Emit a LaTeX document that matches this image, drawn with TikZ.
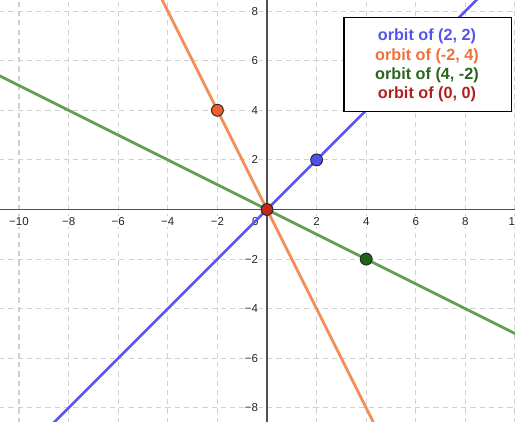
\documentclass[tikz,border=0pt]{standalone}
\usepackage{fontspec}
\setmainfont{Liberation Sans}
\definecolor{gridc}{RGB}{208,208,208}
\definecolor{axisc}{RGB}{80,80,80}
\definecolor{blueL}{RGB}{88,88,242}
\definecolor{orangeL}{RGB}{240,142,88}
\definecolor{greenL}{RGB}{98,158,86}
\definecolor{blueD}{RGB}{80,80,240}
\definecolor{orangeD}{RGB}{238,96,48}
\definecolor{greenD}{RGB}{32,98,22}
\definecolor{redD}{RGB}{192,40,28}
\definecolor{blueT}{RGB}{85,85,238}
\definecolor{orangeT}{RGB}{240,112,60}
\definecolor{greenT}{RGB}{42,100,30}
\definecolor{redT}{RGB}{176,32,30}
\begin{document}
\begin{tikzpicture}[x=0.5cm,y=0.5cm,
  gridline/.style={draw=gridc, line width=0.6pt, dash pattern=on 3pt off 2.3pt},
  axisline/.style={draw=axisc, line width=0.75pt},
  orbitline/.style={line width=1.55pt},
  ticklab/.style={font=\fontsize{6.6}{7}\selectfont, fill=white, inner sep=0.7pt, text=black!85},
  dot/.style={circle, draw=black!85, line width=0.55pt, minimum size=6.8pt, inner sep=0pt},
  legbox/.style={draw=black, line width=0.8pt, fill=white, minimum width=3.381cm, minimum height=1.905cm, inner sep=0pt},
  legtext/.style={font=\fontsize{9.3}{11}\selectfont\bfseries, inner sep=0pt, anchor=base}]
\useasboundingbox (-10.766,-8.528) rectangle (10.0,8.448);
\clip (-10.766,-8.528) rectangle (10.0,8.448);
% grid
\foreach \x in {-10,-8,...,10} {
  \draw[gridline] (\x,-8.6) -- (\x,8.5);
}
\foreach \y in {-8,-6,...,8} {
  \draw[gridline] (-10.8,\y) -- (10.1,\y);
}
% tick labels
\foreach \x/\t in {-10/−10,-8/−8,-6/−6,-4/−4,-2/−2,2/2,4/4,6/6,8/8,10/10} {
  \node[ticklab] (tx\x) at (\x,-0.49) {\t};
}
\foreach \y/\t in {-8/−8,-6/−6,-4/−4,-2/−2,2/2,4/4,6/6,8/8} {
  \node[ticklab, anchor=east] (ty\y) at (-0.3,\y) {\t};
}
\node[ticklab] (t0) at (-0.47,-0.47) {0};
% axes
\coordinate (xl) at (-10.8,0);
\coordinate (xr) at (10.1,0);
\coordinate (yb) at (0,-8.6);
\coordinate (yt) at (0,8.5);
\draw[axisline] (xl) -- (xr);
\draw[axisline] (yb) -- (yt);
% orbit lines
\coordinate (bA) at (-9,-9);
\coordinate (bB) at (9,9);
\coordinate (oA) at (-4.5,9);
\coordinate (oB) at (4.5,-9);
\coordinate (gA) at (-11,5.5);
\coordinate (gB) at (10.2,-5.1);
\draw[orbitline, greenL] (gA) -- (gB);
\draw[orbitline, blueL] (bA) -- (bB);
\draw[orbitline, orangeL] (oA) -- (oB);
% points
\node[dot, fill=blueD] (p1) at (2,2) {};
\node[dot, fill=orangeD] (p2) at (-2,4) {};
\node[dot, fill=greenD] (p3) at (4,-2) {};
\node[dot, fill=redD] (p4) at (0,0) {};
% legend
\node[legbox] (legend) at (6.486,5.845) {};
\node[legtext, text=blueT] (l1) at (6.45,6.80) {orbit of (2, 2)};
\node[legtext, text=orangeT] (l2) at (6.45,6.025) {orbit of (-2, 4)};
\node[legtext, text=greenT] (l3) at (6.45,5.25) {orbit of (4, -2)};
\node[legtext, text=redT] (l4) at (6.45,4.475) {orbit of (0, 0)};
\end{tikzpicture}
\end{document}
